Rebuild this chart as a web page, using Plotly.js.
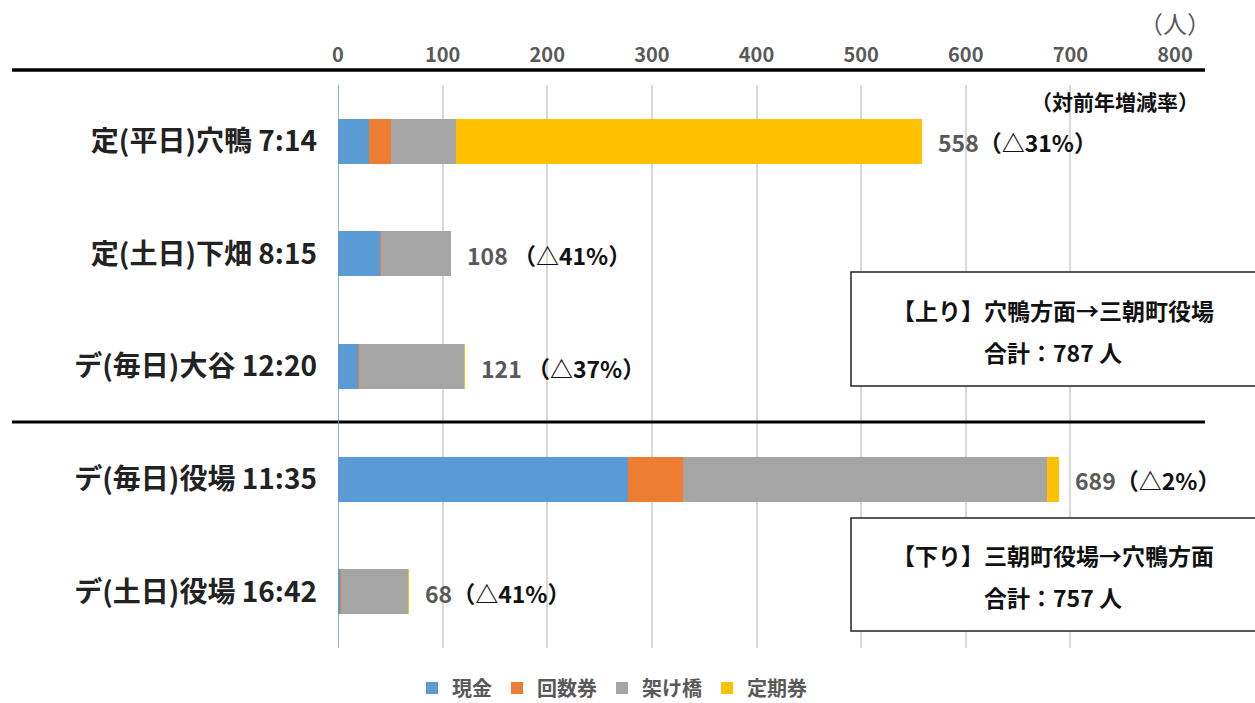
<!DOCTYPE html>
<html><head><meta charset="utf-8">
<script src="https://cdn.plot.ly/plotly-3.0.1.min.js"></script>
<style>html,body{margin:0;padding:0;background:#fff}#chart{width:1255px;height:703px}</style>
</head><body><div id="chart"></div>
<script>
const categories = ['定(平日)穴鴨 7:14','定(土日)下畑 8:15','デ(毎日)大谷 12:20','デ(毎日)役場 11:35','デ(土日)役場 16:42'];
const cash      = [30, 40, 19, 277, 2];
const coupon    = [21, 1, 1, 53, 1];
const bridge    = [62, 67, 100, 348, 64];
const commuter  = [445, 0, 1, 11, 1];
const changeLabels = ['（△31%）','（△41%）','（△37%）','（△2%）','（△41%）'];
const numSep = ['', ' ', ' ', '', ''];
const seriesNames = ['現金','回数券','架け橋','定期券'];
const seriesColors = ['#5B9BD5','#ED7D31','#A5A5A5','#FFC000'];
const xTicks = [0,100,200,300,400,500,600,700,800];
const upTotal = '787', downTotal = '757';

const FONT = '"Noto Sans CJK JP", "Noto Sans", sans-serif';
const vals = [cash, coupon, bridge, commuter];
const traces = vals.map((v,i)=>({
  type:'bar', orientation:'h', name:seriesNames[i], y:categories, x:v,
  marker:{color:seriesColors[i], line:{width:0}}, hoverinfo:'skip'
}));
const totals = categories.map((c,k)=>vals.reduce((s,a)=>s+a[k],0));

const annotations = categories.map((c,k)=>({
  x: totals[k], y: c, xref:'x', yref:'y', xanchor:'left', yanchor:'middle', xshift:14, yshift:-1,
  showarrow:false,
  text:'<span style="color:#595959">'+totals[k]+'</span>'+numSep[k]+changeLabels[k],
  font:{family:FONT, size:23, color:'#111', weight:'bold'}
}));
const boxX = (1053-338)/837;
annotations.push(
  {xref:'paper', yref:'paper', x:(1175-338)/837, y:(648-22)/563, text:'（人）', showarrow:false, xanchor:'center', yanchor:'middle',
   font:{family:FONT, size:24, color:'#595959'}},
  {xref:'paper', yref:'paper', x:(1115-338)/837, y:(648-101)/563, text:'（対前年増減率）', showarrow:false, xanchor:'center', yanchor:'middle',
   font:{family:FONT, size:21, color:'#111', weight:'bold'}},
  {xref:'paper', yref:'paper', x:boxX, y:(648-310)/563, text:'【上り】穴鴨方面→三朝町役場', showarrow:false, xanchor:'center', yanchor:'middle',
   font:{family:FONT, size:23, color:'#111', weight:'bold'}},
  {xref:'paper', yref:'paper', x:boxX, y:(648-352)/563, text:'合計：'+upTotal+' 人', showarrow:false, xanchor:'center', yanchor:'middle',
   font:{family:FONT, size:23, color:'#111', weight:'bold'}},
  {xref:'paper', yref:'paper', x:boxX, y:(648-555)/563, text:'【下り】三朝町役場→穴鴨方面', showarrow:false, xanchor:'center', yanchor:'middle',
   font:{family:FONT, size:23, color:'#111', weight:'bold'}},
  {xref:'paper', yref:'paper', x:boxX, y:(648-597)/563, text:'合計：'+downTotal+' 人', showarrow:false, xanchor:'center', yanchor:'middle',
   font:{family:FONT, size:23, color:'#111', weight:'bold'}}
);

const shapes = [
  {type:'line', xref:'paper', yref:'paper', x0:(12-338)/837, x1:(1205-338)/837, y0:(648-70)/563, y1:(648-70)/563, line:{color:'#000', width:3.5}},
  {type:'line', xref:'paper', yref:'paper', x0:(12-338)/837, x1:(1205-338)/837, y0:(648-422)/563, y1:(648-422)/563, line:{color:'#000', width:3}},
  {type:'line', xref:'x', yref:'paper', x0:0, x1:0, y0:0, y1:1, line:{color:'#5B9BD5', width:1.5}},
  {type:'rect', xref:'paper', yref:'paper', x0:(851-338)/837, x1:1.1, y0:(648-386)/563, y1:(648-272)/563, line:{color:'#222', width:1.5}, fillcolor:'#fff'},
  {type:'rect', xref:'paper', yref:'paper', x0:(851-338)/837, x1:1.1, y0:(648-631)/563, y1:(648-518)/563, line:{color:'#222', width:1.5}, fillcolor:'#fff'}
];

const layout = {
  width:1255, height:703,
  margin:{l:338, r:80, t:85, b:55, autoexpand:false},
  paper_bgcolor:'#fff', plot_bgcolor:'#fff',
  barmode:'stack', bargap:0.6,
  showlegend:true,
  legend:{orientation:'h', x:(612-338)/837, xanchor:'center', y:(648-688)/563, yanchor:'middle',
    font:{family:FONT, size:20, color:'#595959', weight:'bold'}, itemwidth:30, traceorder:'normal', tracegroupgap:0},
  xaxis:{side:'top', range:[0,800], tickvals:xTicks, ticktext:xTicks.map(String),
    showgrid:true, gridcolor:'#D9D9D9', gridwidth:2, zeroline:false, showline:false, ticks:'',
    ticklabelstandoff:18,
    tickfont:{family:FONT, size:20, color:'#595959', weight:'bold'}, fixedrange:true},
  yaxis:{autorange:'reversed', type:'category', showgrid:false, zeroline:false, showline:false, ticks:'',
    ticklabelstandoff:20,
    tickfont:{family:FONT, size:28, color:'#222', weight:'bold'}, fixedrange:true},
  annotations, shapes
};
Plotly.newPlot('chart', traces, layout, {displayModeBar:false, staticPlot:true});
</script></body></html>
